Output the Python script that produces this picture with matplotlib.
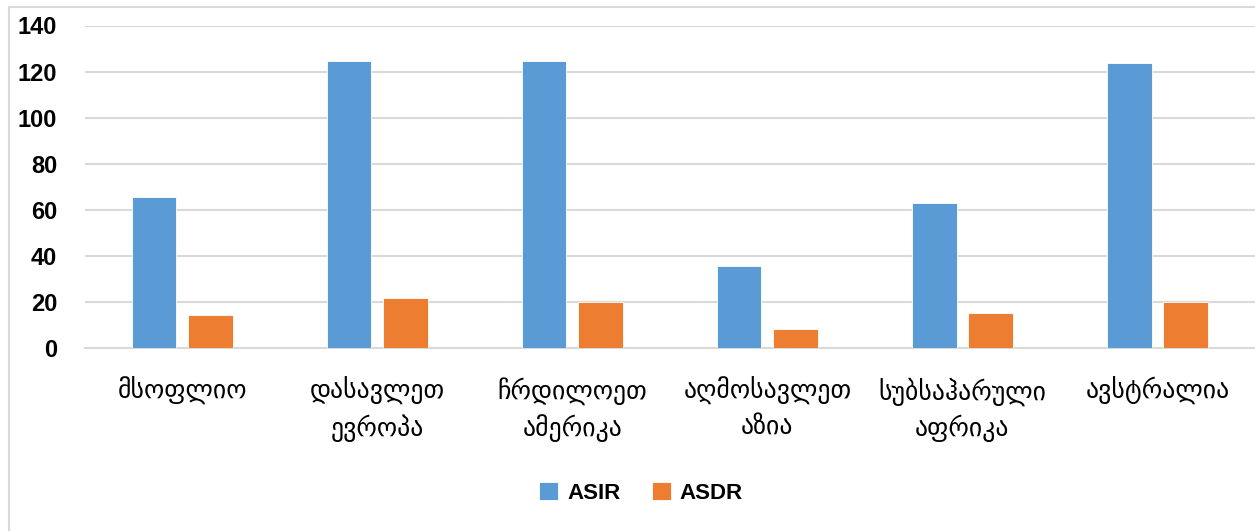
import numpy as np
import matplotlib
matplotlib.use("Agg")
import matplotlib.pyplot as plt
from matplotlib.patches import Rectangle

regions = ["მსოფლიო", "დასავლეთ\nევროპა", "ჩრდილოეთ\nამერიკა",
           "აღმოსავლეთ\nაზია", "სუბსაჰარული\nაფრიკა", "ავსტრალია"]
asir = [65.4, 124.6, 124.6, 35.7, 63.1, 123.6]
asdr = [14.5, 21.7, 20.0, 8.1, 15.1, 19.8]
yticks = [0, 20, 40, 60, 80, 100, 120, 140]

plt.rcParams['font.family'] = ['Liberation Sans', 'DejaVu Sans']

fig = plt.figure(figsize=(12.55, 5.31), dpi=100)
ax = fig.add_axes([84.8/1255, 1-348/531, 1-84.8/1255, (348-25.5)/531])

x = np.arange(len(regions))
w = 0.227
ax.bar(x - 0.144, asir, w, color="#5B9BD5", edgecolor="white", linewidth=0.6, label="ASIR", zorder=3)
ax.bar(x + 0.144, asdr, w, color="#ED7D31", edgecolor="white", linewidth=0.6, label="ASDR", zorder=3)

ax.set_xlim(-0.5, len(regions) - 0.5)
ax.set_ylim(0, 140)
ax.set_yticks(yticks)
ax.set_yticklabels([str(v) for v in yticks], fontsize=17, fontweight="bold")
ax.set_xticks(x)
ax.set_xticklabels(regions, fontsize=18.5, family="DejaVu Sans", linespacing=1.4)
ax.tick_params(axis="x", length=0, pad=21)
ax.tick_params(axis="y", length=0, pad=20)
ax.yaxis.grid(True, color="#D9D9D9", linewidth=1.5, zorder=0)
for s in ["top", "right", "left"]:
    ax.spines[s].set_visible(False)
ax.spines["bottom"].set_color("#D9D9D9")
ax.spines["bottom"].set_linewidth(1.5)

leg = fig.legend(loc="center", bbox_to_anchor=(641/1255, 1-493/531), ncol=2, frameon=False,
                 prop={"size": 16, "weight": "bold"}, handlelength=0.85, handleheight=0.85,
                 handletextpad=0.4, columnspacing=1.4)

fig.patches.append(Rectangle((8.5/1255, -0.01), 1.0, 1-7/531 + 0.01, transform=fig.transFigure,
                             fill=False, edgecolor="#D9D9D9", linewidth=1.5, zorder=-1))

fig.savefig("out.png", dpi=100)
